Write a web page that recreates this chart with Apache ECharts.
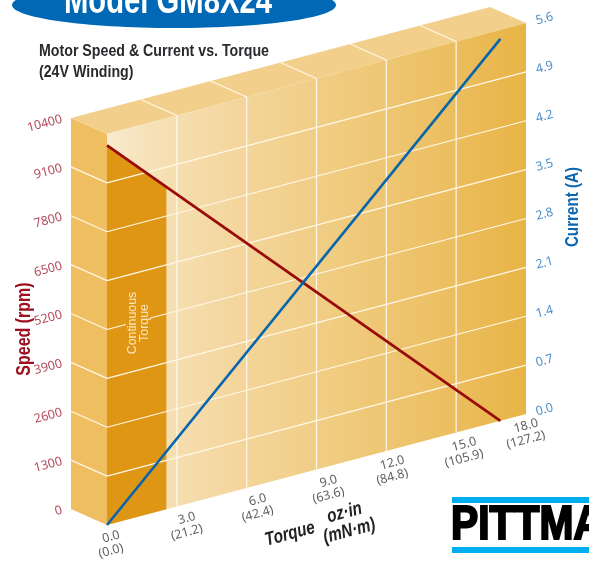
<!DOCTYPE html>
<html><head><meta charset="utf-8">
<style>html,body{margin:0;padding:0;background:#fff}#c{width:589px;height:565px}</style>
<script src="https://cdn.jsdelivr.net/npm/echarts@6/dist/echarts.min.js"></script>
</head><body><div id="c"></div>
<script>
// ---- data ----
const torqueTicks = [0, 3, 6, 9, 12, 15, 18];
const torqueOzIn = ['0.0', '3.0', '6.0', '9.0', '12.0', '15.0', '18.0'];
const torqueMNm = ['(0.0)', '(21.2)', '(42.4)', '(63.6)', '(84.8)', '(105.9)', '(127.2)'];
const speedTicks = [0, 1300, 2600, 3900, 5200, 6500, 7800, 9100, 10400];
const currentTicks = [0, 0.7, 1.4, 2.1, 2.8, 3.5, 4.2, 4.9, 5.6];
const speedLine = [[0, 10100], [16.9, 0]];
const currentLine = [[0, 0], [16.9, 5.47]];
const continuousRegion = [[0, 0], [2.55, 0], [2.55, 8580], [0, 10100]];

// ---- drawing geometry ----
const L = 107, W = 419, R = L + W, H = 391, BOTTOM = 525;
const K = 111 / 419;              // slope of the floor of the plane
const WALL_DX = -36, WALL_DY = -16;
const SPEED_MAX = 10400, TORQUE_MAX = 18;
const white = '#FFF8E8';
const DEG15 = 15 * Math.PI / 180;
const torqueLabelNudge = [4, 10, 11, 12, 6, 8, 0];

function spd(api, x, y) { const p = api.coord([x, y]); return [p[0], p[1] - K * (p[0] - L)]; }
function cur(api, x, y) { const p = api.coord([x, y]); return [p[0], p[1] + K * (R - p[0])]; }
const back = p => [p[0] + WALL_DX, p[1] + WALL_DY];
const seg = (a, b, stroke, w) => ({ type: 'line', shape: { x1: a[0], y1: a[1], x2: b[0], y2: b[1] }, style: { stroke, lineWidth: w } });
const poly = (points, fill) => ({ type: 'polygon', shape: { points }, style: { fill } });

function renderStructure(params, api) {
  const a = spd(api, 0, 0), b = spd(api, TORQUE_MAX, 0), c = spd(api, TORQUE_MAX, SPEED_MAX), d = spd(api, 0, SPEED_MAX);
  const kids = [
    poly([back(a), a, d, back(d)], '#EFBE60'),
    poly([back(d), d, c, back(c)], '#F2CF8A'),
    poly([a, b, c, d], new echarts.graphic.LinearGradient(0, 0, 1, 0, [
      { offset: 0, color: '#F8EBCF' }, { offset: 0.1, color: '#F6E2B8' }, { offset: 0.3, color: '#F4D69E' },
      { offset: 0.55, color: '#F0CC80' }, { offset: 0.8, color: '#ECBF62' }, { offset: 1, color: '#E8B446' }
    ])),
    poly(continuousRegion.map(q => spd(api, q[0], q[1])), '#E09615')
  ];
  speedTicks.slice(1, -1).forEach(v => {
    const s = spd(api, 0, v);
    kids.push(seg(back(s), s, white, 1.2), seg(s, spd(api, TORQUE_MAX, v), white, 1.2));
  });
  torqueTicks.slice(1, -1).forEach(t => {
    const top = spd(api, t, SPEED_MAX);
    kids.push(seg(spd(api, t, 0), top, white, 1.2), seg(top, back(top), white, 1.2));
  });
  return { type: 'group', children: kids };
}
const tickText = (x, y, text, fill, align) => ({
  type: 'text', x, y, rotation: DEG15,
  style: { text, fill, align, verticalAlign: 'middle', font: '12.5px "Noto Sans"' }
});
function renderTorqueLabels(params, api) {
  const kids = [];
  torqueTicks.forEach((t, i) => {
    const p = spd(api, t, 0), nx = p[0] + torqueLabelNudge[i];
    kids.push(tickText(nx, p[1] + 12, torqueOzIn[i], '#5F5F63', 'center'),
              tickText(nx, p[1] + 26, torqueMNm[i], '#5F5F63', 'center'));
  });
  return { type: 'group', children: kids };
}
function renderSpeedLabels(params, api) {
  return { type: 'group', children: speedTicks.map(v => {
    const p = spd(api, 0, v);
    return tickText(p[0] - 45, p[1] - 15, String(v), '#B4485A', 'right');
  }) };
}
function renderCurrentLabels(params, api) {
  return { type: 'group', children: currentTicks.map(v => {
    const p = cur(api, TORQUE_MAX, v);
    return tickText(p[0] + 10, p[1] - 2, v.toFixed(1), '#4A8FCC', 'left');
  }) };
}
const lineRenderer = (pts, mapper, stroke, w) => (params, api) => ({
  type: 'polyline', shape: { points: pts.map(q => mapper(api, q[0], q[1])) },
  style: { stroke, lineWidth: w, fill: null }
});
const narrow = (text, x, y, font, fill, scaleX, rotation, extra) => Object.assign({
  type: 'text', x, y, scaleX, rotation: rotation || 0, z: 11,
  style: Object.assign({ text, fill, font, align: 'center', verticalAlign: 'middle' }, extra || {})
});

const chart = echarts.init(document.getElementById('c'), null, { renderer: 'canvas' });
const hiddenX = gi => ({ type: 'value', gridIndex: gi, min: 0, max: TORQUE_MAX, interval: 3, show: false });
const hiddenY = (gi, max, interval) => ({ type: 'value', gridIndex: gi, min: 0, max, interval, show: false });
chart.setOption({
  animation: false,
  grid: [
    { left: L, width: W, top: BOTTOM - H, height: H, outerBoundsMode: 'none' },
    { left: L, width: W, top: BOTTOM - H - 111, height: H, outerBoundsMode: 'none' }
  ],
  xAxis: [hiddenX(0), hiddenX(1)],
  yAxis: [hiddenY(0, SPEED_MAX, 1300), hiddenY(1, 5.6, 0.7)],
  series: [
    { type: 'custom', name: 'structure', xAxisIndex: 0, yAxisIndex: 0, data: [[0, 0]], renderItem: renderStructure, z: 1, silent: true },
    { type: 'custom', name: 'torque labels', xAxisIndex: 0, yAxisIndex: 0, data: [[0, 0]], renderItem: renderTorqueLabels, z: 2, silent: true },
    { type: 'custom', name: 'speed labels', xAxisIndex: 0, yAxisIndex: 0, data: [[0, 0]], renderItem: renderSpeedLabels, z: 2, silent: true },
    { type: 'custom', name: 'current labels', xAxisIndex: 1, yAxisIndex: 1, data: [[0, 0]], renderItem: renderCurrentLabels, z: 2, silent: true },
    { type: 'custom', name: 'Speed', xAxisIndex: 0, yAxisIndex: 0, data: speedLine, renderItem: (p, a) => p.dataIndex === 0 ? lineRenderer(speedLine, spd, '#990B0B', 2.8)(p, a) : null, z: 3, silent: true },
    { type: 'custom', name: 'Current', xAxisIndex: 1, yAxisIndex: 1, data: currentLine, renderItem: (p, a) => p.dataIndex === 0 ? lineRenderer(currentLine, cur, '#0765AE', 2.6)(p, a) : null, z: 4, silent: true }
  ],
  graphic: [
    { type: 'ellipse', shape: { cx: 174, cy: 5, rx: 162, ry: 23 }, style: { fill: '#0068B5' }, z: 10 },
    narrow('Model GM8X24', 168, 3, 'bold 38px "Liberation Sans"', '#FFFFFF', 0.77),
    { type: 'text', x: 39, y: 52, scaleX: 0.887, z: 11, style: { text: 'Motor Speed & Current vs. Torque', fill: '#2A2A2E', font: 'bold 16px "Liberation Sans"', align: 'left', verticalAlign: 'middle' } },
    { type: 'text', x: 39, y: 73, scaleX: 0.887, z: 11, style: { text: '(24V Winding)', fill: '#2A2A2E', font: 'bold 16px "Liberation Sans"', align: 'left', verticalAlign: 'middle' } },
    narrow('Speed (rpm)', 24, 329, 'bold 20px "Liberation Sans"', '#9C1020', 0.8, Math.PI / 2),
    narrow('Current (A)', 573, 207, 'bold 19px "Liberation Sans"', '#0A66B0', 0.8, Math.PI / 2),
    narrow('Continuous\nTorque', 138, 323, '13px "Liberation Sans"', '#F9E8C4', 0.95, Math.PI / 2, { lineHeight: 12, backgroundColor: '#E09615' }),
    narrow('Torque', 290, 534, 'italic bold 19px "Liberation Sans"', '#222', 0.8, DEG15),
    narrow('oz\u00B7in\n(mN\u00B7m)', 347, 522, 'italic bold 19px "Liberation Sans"', '#222', 0.8, DEG15, { lineHeight: 19 }),
    { type: 'rect', shape: { x: 452, y: 497, width: 137, height: 6 }, style: { fill: '#00AEEF' }, z: 10 },
    { type: 'rect', shape: { x: 452, y: 547, width: 137, height: 6 }, style: { fill: '#00AEEF' }, z: 10 },
    { type: 'text', x: 451, y: 525.5, scaleX: 0.85, z: 11, style: { text: 'PITTMAN', fill: '#000', stroke: '#000', lineWidth: 2.2, align: 'left', verticalAlign: 'middle',
        font: 'bold 48px "Liberation Sans"' } }
  ]
});
</script></body></html>
